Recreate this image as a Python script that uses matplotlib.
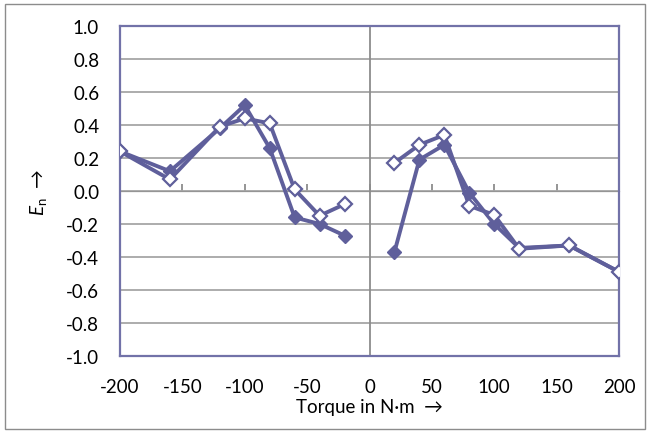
import matplotlib
matplotlib.use("Agg")
import matplotlib.pyplot as plt
from matplotlib.patches import Rectangle

plt.rcParams['font.family'] = ['Lato', 'DejaVu Sans']
plt.rcParams['mathtext.fontset'] = 'custom'
plt.rcParams['mathtext.rm'] = 'Lato'
plt.rcParams['mathtext.it'] = 'Lato:italic'

torque_neg = [-200, -160, -120, -100, -80, -60, -40, -20]
torque_pos = [20, 40, 60, 80, 100, 120, 160, 200]

filled_neg = [0.24, 0.12, 0.38, 0.52, 0.26, -0.16, -0.20, -0.27]
filled_pos = [-0.37, 0.19, 0.28, -0.01, -0.20, -0.345, -0.33, -0.49]
open_neg = [0.24, 0.07, 0.39, 0.44, 0.41, 0.01, -0.15, -0.08]
open_pos = [0.17, 0.28, 0.34, -0.09, -0.145, -0.35, -0.33, -0.49]

xticks = [-200, -150, -100, -50, 0, 50, 100, 150, 200]
yticks = [-1.0, -0.8, -0.6, -0.4, -0.2, 0.0, 0.2, 0.4, 0.6, 0.8, 1.0]

col = '#5F5F9B'
frame_col = '#7272A8'

fig = plt.figure(figsize=(6.5, 4.35), dpi=100)
ax = fig.add_axes([120/650, 78/435, 499/650, 330/435])

for s in ax.spines.values():
    s.set_color(frame_col)
    s.set_linewidth(1.6)

ax.set_xlim(-200, 200)
ax.set_ylim(-1.0, 1.0)
ax.set_xticks(xticks)
ax.set_xticklabels([str(v) for v in xticks])
ax.set_yticks(yticks)
ax.set_yticklabels([f"{v:.1f}" for v in yticks])
ax.tick_params(axis='both', length=0, labelsize=13.5, colors='black')
ax.tick_params(axis='y', pad=15)
ax.tick_params(axis='x', pad=16)
ax.grid(axis='y', color='#A6A6A6', linewidth=1.3)
ax.set_axisbelow(True)
ax.axvline(0, color='#8C8C8C', linewidth=1.3, zorder=1)

sec = ax.secondary_xaxis(0.5)
sec.set_xticks(xticks)
sec.set_xticklabels([])
sec.tick_params(axis='x', direction='out', length=5, width=1.3, color='#8C8C8C')
sec.spines['bottom'].set_color('#8C8C8C')
sec.spines['bottom'].set_linewidth(1.5)

for xs, ys in [(torque_neg, filled_neg), (torque_pos, filled_pos)]:
    ax.plot(xs, ys, color=col, linewidth=2.8, marker='D', markersize=7.5,
            markerfacecolor=col, markeredgecolor=col, zorder=3)
for xs, ys in [(torque_neg, open_neg), (torque_pos, open_pos)]:
    ax.plot(xs, ys, color=col, linewidth=2.8, marker='D', markersize=7.5,
            markerfacecolor='white', markeredgecolor=col, markeredgewidth=1.6, zorder=4)

ax.set_xlabel('Torque in N·m  →', fontsize=13.5, labelpad=2)
ax.set_ylabel(r'$E_\mathrm{n}$  →', fontsize=13.5, labelpad=12)

fig.patches.append(Rectangle((5/650, 5/435), 640/650, 425/435, transform=fig.transFigure,
                             fill=False, edgecolor='#8C8C8C', linewidth=1.0))

fig.savefig('out.png', dpi=100)
